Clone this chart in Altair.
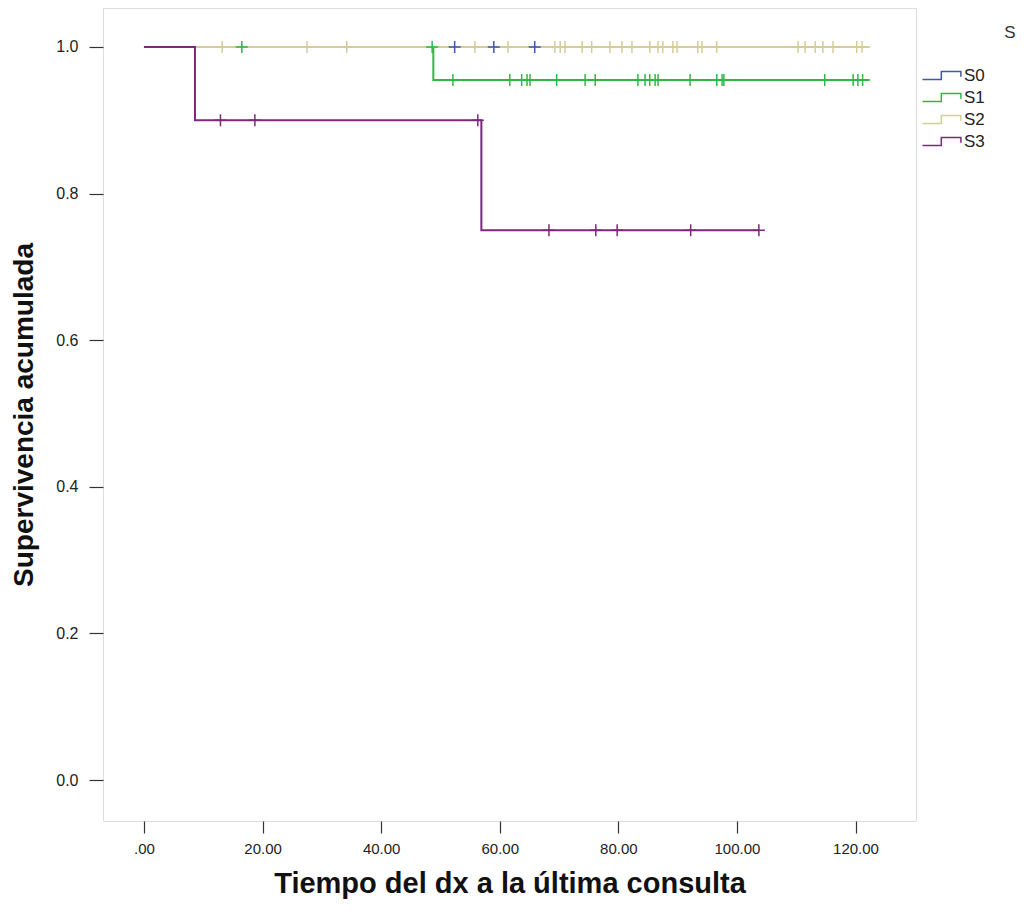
import altair as alt
import pandas as pd

# ---- data ----
groups = ["S0", "S1", "S2", "S3"]
colors = ["#3E58AC", "#2EB848", "#D3CE97", "#7C287D"]

# step (event) times and survival after each event; first entry is time 0
s0_steps_t = [0.0]
s0_steps_s = [1.0]
s0_end = 65.9
s0_cens = [52.4, 59.0, 65.9]

s1_steps_t = [0.0, 48.8]
s1_steps_s = [1.0, 0.955]
s1_end = 122.4
s1_cens = [16.5, 48.6, 52.1, 61.7, 63.7, 64.6, 65.1, 69.6, 74.4, 76.1, 83.3,
           84.5, 85.3, 86.2, 86.7, 92.1, 96.6, 97.5, 97.8, 114.8, 119.6, 120.4, 121.2]

s2_steps_t = [0.0]
s2_steps_s = [1.0]
s2_end = 122.4
s2_cens = [13.2, 27.5, 34.2, 55.8, 61.4, 69.3, 70.2, 71.0, 73.9, 75.5, 78.6, 80.6,
           82.3, 85.3, 86.7, 87.5, 89.2, 89.9, 93.4, 94.1, 96.6, 110.3, 111.5,
           113.2, 114.5, 116.2, 120.2, 121.1]

s3_steps_t = [0.0, 8.6, 56.9]
s3_steps_s = [1.0, 0.9, 0.75]
s3_end = 103.8
s3_cens = [12.9, 18.7, 56.3, 68.3, 76.2, 79.8, 92.2, 103.7]

x_ticks = [0, 20, 40, 60, 80, 100, 120]
y_ticks = [0.0, 0.2, 0.4, 0.6, 0.8, 1.0]

# ---- build tables ----
series = {
    "S0": (s0_steps_t, s0_steps_s, s0_end, s0_cens),
    "S1": (s1_steps_t, s1_steps_s, s1_end, s1_cens),
    "S2": (s2_steps_t, s2_steps_s, s2_end, s2_cens),
    "S3": (s3_steps_t, s3_steps_s, s3_end, s3_cens),
}


def surv_at(ts, ss, t):
    v = ss[0]
    for tt, sv in zip(ts, ss):
        if tt <= t:
            v = sv
    return v


line_rows, cens_rows = [], []
for g, (ts, ss, end, cens) in series.items():
    for o, (t, s) in enumerate(zip(ts, ss)):
        line_rows.append({"S": g, "t": t, "s": s, "o": o})
    line_rows.append({"S": g, "t": end, "s": ss[-1], "o": len(ts)})
    for t in cens:
        cens_rows.append({"S": g, "t": t, "s": surv_at(ts, ss, t)})

lines_df = pd.DataFrame(line_rows)
cens_df = pd.DataFrame(cens_rows)

x_scale = alt.Scale(domain=[-6.91, 130.2], nice=False, zero=False)
y_scale = alt.Scale(domain=[-0.0559, 1.0532], nice=False, zero=False)
color_scale = alt.Scale(domain=groups, range=colors)

# small nominal symbol size, path drawn wider than the unit box
step_path = "M-5,1L-0.3,1L-0.3,-1L4.6,-1L4.6,0.3"
FONT = "Liberation Sans, Arial, sans-serif"

x_axis = alt.Axis(
    values=x_ticks,
    labelExpr="datum.value == 0 ? '.00' : format(datum.value, '.2f')",
    title="Tiempo del dx a la última consulta",
    grid=False, domain=False, tickSize=12, tickColor="#333333", tickWidth=1.2,
    labelFont=FONT, labelFontSize=15, labelColor="#222222",
    labelPadding=8,
    titleFont=FONT, titleFontSize=29, titleFontWeight="bold",
    titleColor="#111111", titlePadding=13,
)
y_axis = alt.Axis(
    values=y_ticks, format=".1f",
    title="Supervivencia acumulada",
    grid=False, domain=False, tickSize=14, tickColor="#333333", tickWidth=1.2,
    labelFont=FONT, labelFontSize=16, labelColor="#222222",
    labelPadding=11,
    titleFont=FONT, titleFontSize=28, titleFontWeight="bold",
    titleColor="#111111", titlePadding=17,
)

lines = alt.Chart(lines_df).mark_line(interpolate="step-after", strokeWidth=2).encode(
    x=alt.X("t:Q", scale=x_scale, axis=x_axis),
    y=alt.Y("s:Q", scale=y_scale, axis=y_axis),
    order="o:Q",
    color=alt.Color(
        "S:N", scale=color_scale,
        legend=alt.Legend(
            title=None, orient="none", legendX=831, legendY=59,
            symbolType=step_path, symbolSize=64, symbolStrokeWidth=1.5,
            symbolFillColor="transparent",
            labelFont=FONT, labelFontSize=17, labelColor="#222222",
            labelOffset=13, rowPadding=4, padding=0,
        ),
    ),
)

cens = alt.Chart(cens_df).mark_point(
    shape="M-1,0L1,0M0,-1L0,1", size=144, strokeWidth=1.5, filled=False, opacity=1
).encode(
    x=alt.X("t:Q", scale=x_scale),
    y=alt.Y("s:Q", scale=y_scale),
    color=alt.Color("S:N", scale=color_scale, legend=None),
)

legend_title = alt.Chart(pd.DataFrame({"lab": ["S"]})).mark_text(
    font=FONT, fontSize=17, color="#333333", align="center", baseline="middle"
).encode(x=alt.value(907), y=alt.value(25), text="lab:N")

chart = alt.layer(lines, cens, legend_title).properties(
    width=813, height=813,
    autosize=alt.AutoSizeParams(type="none"),
    padding={"left": 95, "top": 0, "right": 100, "bottom": 80},
).configure_view(
    fill="#F0F0F0", stroke="#444444", strokeWidth=1.2
).configure(background="white")

chart.save("out.html", embed_options={"renderer": "svg", "actions": False})
